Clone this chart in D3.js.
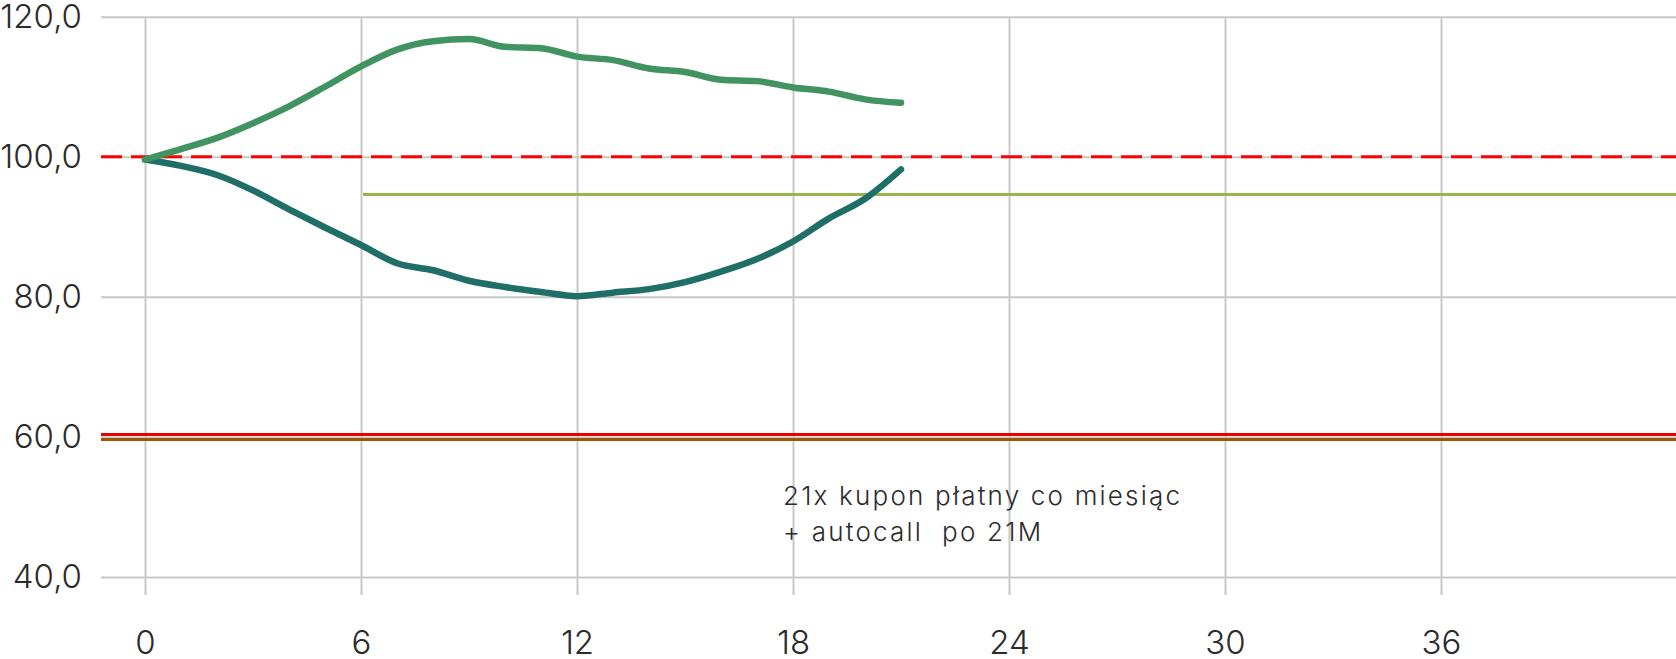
<!DOCTYPE html>
<html>
<head>
<meta charset="utf-8">
<script src="https://cdn.jsdelivr.net/npm/d3@7"></script>
<style>
    html, body { margin: 0; padding: 0; background: #fff; }
    svg { display: block; }
    svg text { font-family: Inter, "Open Sans", sans-serif; font-weight: 300; }
</style>
</head>
<body>
<div id="chart"></div>
<script>
// months 0..21 (monthly observations)
const months = [0, 1, 2, 3, 4, 5, 6, 7, 8, 9, 10, 11, 12, 13, 14, 15, 16, 17, 18, 19, 20, 21];
const upperValues = [99.6, 101.1, 102.7, 104.8, 107.2, 110.0, 112.9, 115.3, 116.5, 116.8, 115.7, 115.5,
    114.3, 113.8, 112.6, 112.1, 111.0, 110.8, 109.9, 109.3, 108.2, 107.7];
const lowerValues = [99.6, 98.7, 97.4, 95.2, 92.5, 89.9, 87.4, 84.8, 83.8, 82.3, 81.4, 80.7,
    80.1, 80.6, 81.1, 82.1, 83.6, 85.4, 87.9, 91.2, 94.0, 98.2];

const xTicks = [0, 6, 12, 18, 24, 30, 36];
const yTicks = [40, 60, 80, 100, 120];

const initialLevel = 100;      // dashed red
const couponLevel = 94.6;      // olive, from month 6
const couponStart = 6;
const barrierRed = 60.35;
const barrierBrown = 59.65;

const noteLines = ["21x kupon płatny co miesiąc", "+ autocall  po 21M"];

const width = 1676, height = 659;

const x = d3.scaleLinear().domain([0, 36]).range([145, 1441]);
const y = d3.scaleLinear().domain([40, 120]).range([577, 16.7]);

const pl = d3.formatLocale({ decimal: ",", thousands: " ", grouping: [3], currency: ["", " zł"] });
const fmt = pl.format(".1f");

const svg = d3.select("#chart").append("svg")
    .attr("width", width)
    .attr("height", height)
    .attr("viewBox", [0, 0, width, height]);

const gridLeft = 101;
const gridBottom = 595;

// horizontal grid + y labels
const yAxis = svg.append("g")
    .attr("transform", `translate(${gridLeft},0)`)
    .call(d3.axisLeft(y).tickValues(yTicks).tickSize(-(width - gridLeft)).tickPadding(19).tickFormat(fmt))
    .attr("font-family", null).attr("font-size", null);
yAxis.select(".domain").remove();
yAxis.selectAll("line").attr("stroke", "#c8c8c8").attr("stroke-width", 2);
yAxis.selectAll("text").attr("fill", "#2b2b2b").style("font-size", "33px");

// vertical grid + x labels
const xAxis = svg.append("g")
    .attr("transform", `translate(0,${gridBottom})`)
    .call(d3.axisBottom(x).tickValues(xTicks).tickSize(-(gridBottom - y(120))).tickPadding(0))
    .attr("font-family", null).attr("font-size", null);
xAxis.select(".domain").remove();
xAxis.selectAll("line").attr("stroke", "#c8c8c8").attr("stroke-width", 2);
xAxis.selectAll("text").attr("fill", "#2b2b2b").style("font-size", "33px")
    .attr("y", 36);

// barrier lines
svg.append("line")
    .attr("x1", gridLeft).attr("x2", width)
    .attr("y1", y(barrierRed)).attr("y2", y(barrierRed))
    .attr("stroke", "#e80000").attr("stroke-width", 3);
svg.append("line")
    .attr("x1", gridLeft).attr("x2", width)
    .attr("y1", y(barrierBrown)).attr("y2", y(barrierBrown))
    .attr("stroke", "#9e5600").attr("stroke-width", 3);

// coupon level
svg.append("line")
    .attr("x1", x(couponStart) + 2).attr("x2", width)
    .attr("y1", y(couponLevel)).attr("y2", y(couponLevel))
    .attr("stroke", "#97b548").attr("stroke-width", 3);

// initial level
svg.append("line")
    .attr("x1", gridLeft).attr("x2", width)
    .attr("y1", y(initialLevel)).attr("y2", y(initialLevel))
    .attr("stroke", "#ff0000").attr("stroke-width", 3)
    .attr("stroke-dasharray", "21 9");

const line = d3.line()
    .x(d => x(d[0]))
    .y(d => y(d[1]))
    .curve(d3.curveMonotoneX);

svg.append("path")
    .datum(d3.zip(months, lowerValues))
    .attr("fill", "none")
    .attr("stroke", "#1f6f68")
    .attr("stroke-width", 6.5)
    .attr("stroke-linecap", "round")
    .attr("stroke-linejoin", "round")
    .attr("d", line);

svg.append("path")
    .datum(d3.zip(months, upperValues))
    .attr("fill", "none")
    .attr("stroke", "#419462")
    .attr("stroke-width", 6.5)
    .attr("stroke-linecap", "round")
    .attr("stroke-linejoin", "round")
    .attr("d", line);

// annotation
svg.append("text")
    .attr("x", 783)
    .attr("y", 505)
    .attr("fill", "#2b2b2b")
    .style("font-size", "26px")
    .style("letter-spacing", "2.2px")
    .style("white-space", "pre")
    .selectAll("tspan")
    .data(noteLines)
    .join("tspan")
    .attr("x", 783)
    .attr("dy", (d, i) => i === 0 ? 0 : 36)
    .text(d => d);
</script>
</body>
</html>
